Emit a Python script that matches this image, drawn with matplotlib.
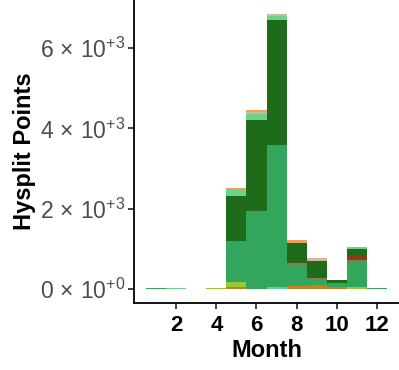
import matplotlib
matplotlib.use("Agg")
import matplotlib.pyplot as plt
from matplotlib.ticker import FuncFormatter
import numpy as np

plt.rcParams['font.family'] = ['Liberation Sans', 'DejaVu Sans']
plt.rcParams['mathtext.fontset'] = 'custom'
plt.rcParams['mathtext.rm'] = 'Liberation Sans'
plt.rcParams['mathtext.it'] = 'Liberation Sans'

# hysplit trajectory points per month, split by land cover class (stacked bottom -> top)
months = np.arange(1, 13)
cropland   = [0, 0, 0, 15, 50, 15, 0, 80, 115, 50, 0, 0]
grassland  = [0, 0, 0, 25, 140, 0, 0, 0, 0, 0, 50, 0]
savanna    = [0, 0, 0, 0, 0, 0, 50, 0, 0, 0, 0, 0]
forest_mix = [25, 0, 0, 0, 985, 1935, 3507, 530, 107, 115, 653, 25]
wetland    = [0, 0, 0, 0, 15, 0, 20, 50, 58, 0, 20, 0]
urban      = [0, 0, 0, 0, 0, 0, 0, 0, 0, 0, 132, 0]
evergreen  = [15, 0, 0, 0, 1140, 2250, 3126, 488, 420, 58, 140, 15]
shrubland  = [0, 35, 0, 0, 165, 165, 83, 0, 0, 17, 66, 0]
barren     = [0, 0, 5, 0, 0, 40, 66, 0, 66, 0, 0, 0]
water      = [0, 0, 0, 0, 35, 66, 0, 66, 0, 0, 0, 0]

layers = [cropland, grassland, savanna, forest_mix, wetland, urban,
          evergreen, shrubland, barren, water]
colors = ['#c8801e', '#99c831', '#5fd0a0', '#33a65e', '#8c7a50', '#8b3a1a',
          '#1e6b1a', '#6dd38a', '#d4b896', '#f0a060']

fig = plt.figure(figsize=(3.99, 3.70), dpi=100)
ax = fig.add_axes([0.336, 0.181, 0.664, 0.819])

bottom = np.zeros(len(months))
for vals, col in zip(layers, colors):
    ax.bar(months, vals, width=1.0, bottom=bottom, color=col, linewidth=0)
    bottom += np.array(vals)

ymax = bottom.max()
ax.set_ylim(-0.05 * ymax, 1.05 * ymax)
ax.set_xlim(-0.1, 13.1)

ax.set_xticks([2, 4, 6, 8, 10, 12])
ax.set_yticks([0, 2000, 4000, 6000])


def sci(v, pos):
    if v == 0:
        return r"$0\,\times\,10^{+0}$"
    exp = int(np.floor(np.log10(abs(v))))
    return r"$%d\,\times\,10^{+%d}$" % (round(v / 10 ** exp), exp)


ax.yaxis.set_major_formatter(FuncFormatter(sci))

for s in ['top', 'right']:
    ax.spines[s].set_visible(False)
for s in ['left', 'bottom']:
    ax.spines[s].set_linewidth(1.3)
    ax.spines[s].set_color('black')

ax.tick_params(axis='both', length=4.5, width=1.3, color='#333333')
ax.tick_params(axis='x', labelsize=16, pad=4)
ax.tick_params(axis='y', labelsize=16.5, labelcolor='#4d4d4d', pad=2)
for lab in ax.get_xticklabels():
    lab.set_fontweight('bold')

ax.set_xlabel('Month', fontsize=17, fontweight='bold', labelpad=2)
ax.set_ylabel('Hysplit Points', fontsize=17, fontweight='bold', labelpad=3)

fig.savefig('out.png', dpi=100)
